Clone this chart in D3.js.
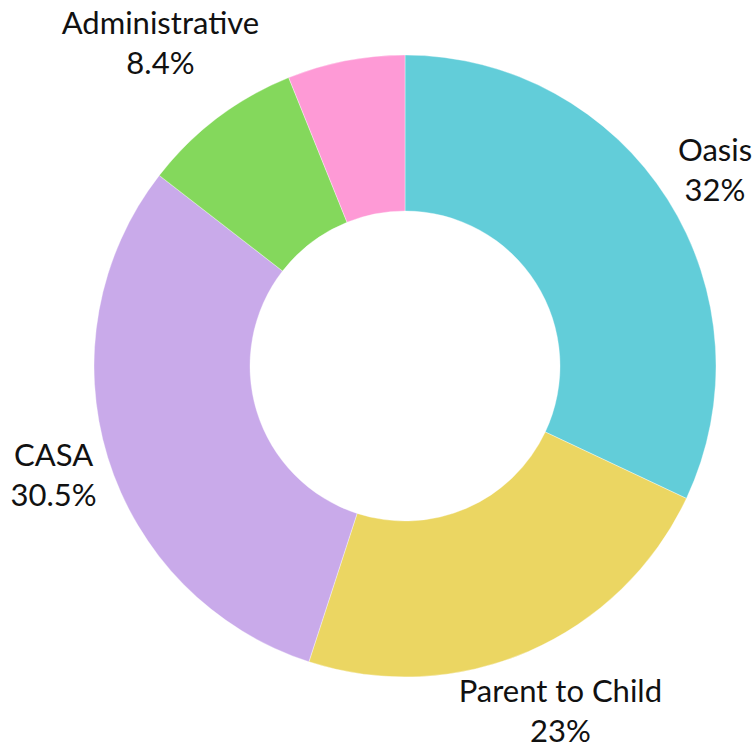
<!DOCTYPE html>
<html>
<head>
<meta charset="utf-8">
<script src="https://cdn.jsdelivr.net/npm/d3@7"></script>
<style>
  body { margin: 0; background: #fff; }
  text { font-family: Lato, "Noto Sans", sans-serif; fill: #111; }
</style>
</head>
<body>
<div id="chart"></div>
<script>
// Chart data
var categories = ["Oasis", "Parent to Child", "CASA", "Administrative", "Other"];
var shares = [32, 23, 30.5, 8.4, 6.1];
var sliceColors = ["#62CDD9", "#EBD662", "#C9AAEA", "#84D85C", "#FE9AD6"];

// Dimensions
var width = 756;
var height = 749;
var cx = 405;
var cy = 366;
var radiusOuter = 311;
var radiusInner = 155;
var labelGap = 4;      // space between ring and label box
var minLabelShare = 7; // small slices carry no label

var svg = d3.select("#chart")
    .append("svg")
    .attr("width", width)
    .attr("height", height);

var dataset = categories.map((c, i) => ({ category: c, value: shares[i], color: sliceColors[i] }));

var pieLayout = d3.pie().sort(null).value(d => d.value);
var arcGenerator = d3.arc().innerRadius(radiusInner).outerRadius(radiusOuter);

var g = svg.append("g").attr("transform", "translate(" + cx + "," + cy + ")");

// Slices
g.selectAll("path.slice")
    .data(pieLayout(dataset))
    .enter()
    .append("path")
    .attr("class", "slice")
    .attr("d", arcGenerator)
    .attr("fill", d => d.data.color)
    .attr("stroke", "rgba(255,255,255,0.6)")
    .attr("stroke-width", 0.6);

// Labels outside the ring
var labels = g.selectAll("text.label")
    .data(pieLayout(dataset).filter(d => d.data.value >= minLabelShare))
    .enter()
    .append("text")
    .attr("class", "label")
    .attr("text-anchor", "middle")
    .attr("font-size", "31px");

labels.append("tspan")
    .attr("x", 0)
    .attr("dy", "-0.28em")
    .text(d => d.data.category);

labels.append("tspan")
    .attr("x", 0)
    .attr("dy", 40)
    .text(d => d3.format("")(d.data.value) + "%");

labels.each(function(d) {
    var box = this.getBBox();
    var hw = box.width / 2;
    var hh = box.height / 2;
    var a = (d.startAngle + d.endAngle) / 2;
    var ux = Math.sin(a);
    var uy = -Math.cos(a);
    // push the box out until it clears the ring along the mid-angle
    var r = radiusOuter + labelGap + Math.abs(ux) * hw + Math.abs(uy) * hh;
    var px = ux * r;
    var py = uy * r;
    // keep the box inside the drawing
    py = Math.min(py, height - cy - hh);
    py = Math.max(py, -cy + hh);
    var boxCx = box.x + hw;
    var boxCy = box.y + hh;
    d3.select(this).attr("transform",
        "translate(" + (px - boxCx) + "," + (py - boxCy) + ")");
});
</script>
</body>
</html>
